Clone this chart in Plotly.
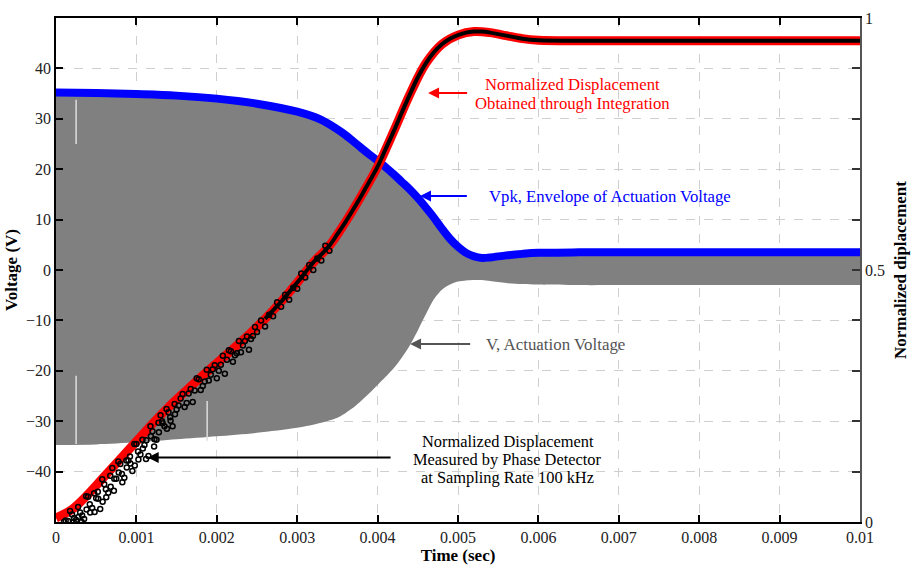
import plotly.graph_objects as go

# ---------------- data ----------------
# Vpk envelope (left axis, volts)
vpk_t = [0, 0.0005, 0.001, 0.0015, 0.002, 0.0025, 0.003, 0.0033, 0.0035, 0.0036, 0.0037,
         0.0038, 0.0039, 0.004, 0.0041, 0.0042, 0.0043, 0.0044, 0.0045, 0.0046, 0.0047,
         0.0048, 0.0049, 0.005, 0.0051, 0.0052, 0.0053, 0.0054, 0.0056, 0.0058, 0.006,
         0.0065, 0.007, 0.008, 0.009, 0.01]
vpk_v = [35.2, 35.1, 34.9, 34.6, 34.0, 33.0, 31.4, 29.8, 27.9, 26.8, 25.5,
         24.2, 22.9, 21.7, 20.4, 19.0, 17.5, 16.0, 14.3, 12.4, 10.4,
         8.2, 6.2, 4.6, 3.4, 2.7, 2.4, 2.5, 2.9, 3.2, 3.4,
         3.5, 3.5, 3.5, 3.5, 3.5]
# lower edge of the actuation-voltage band (left axis, volts)
vlow_v = [-34.7, -34.6, -34.2, -33.6, -33.0, -32.3, -31.3, -30.3, -29.3, -28.4, -27.3,
          -25.9, -24.4, -22.8, -21.2, -19.5, -17.4, -15.0, -12.0, -8.8, -5.8,
          -3.9, -2.9, -2.3, -2.1, -2.0, -2.0, -2.2, -2.6, -2.8, -2.9,
          -3.0, -3.0, -3.0, -3.0, -3.0]

# short light glitches visible inside the grey band: time, V from, V to
glitch_t = [0.00025, 0.00025, 0.00188]
glitch_v0 = [33.8, -21.0, -26.0]
glitch_v1 = [25.0, -34.5, -33.9]

# normalized displacement obtained through integration (right axis)
integ_t = [0, 0.0002, 0.0004, 0.0006, 0.0008, 0.001, 0.0012, 0.0014, 0.0016, 0.0018,
           0.002, 0.0022, 0.0024, 0.0026, 0.0028, 0.003, 0.0032, 0.0034, 0.0036,
           0.0038, 0.004, 0.0042, 0.0044, 0.0046, 0.0048, 0.005, 0.0052, 0.0054,
           0.0056, 0.0058, 0.006, 0.0065, 0.007, 0.008, 0.009, 0.01]
integ_d = [0.008, 0.025, 0.055, 0.09, 0.125, 0.16, 0.195, 0.228, 0.258, 0.287,
           0.315, 0.343, 0.372, 0.403, 0.437, 0.475, 0.515, 0.548, 0.595,
           0.648, 0.705, 0.775, 0.848, 0.91, 0.948, 0.966, 0.973, 0.971,
           0.965, 0.959, 0.956, 0.955, 0.955, 0.955, 0.955, 0.955]

# measured displacement (phase detector), scattered early samples
meas_t = [0.00015, 0.0002, 0.00025, 0.0003, 0.00035, 0.0004, 0.00045, 0.0005, 0.00055, 0.0006,
          0.00065, 0.0007, 0.00075, 0.0008, 0.00085, 0.0009, 0.00095, 0.001, 0.00105, 0.0011,
          0.00115, 0.0012, 0.00125, 0.0013, 0.00135, 0.0014, 0.00145, 0.0015, 0.00155, 0.0016,
          0.00165, 0.0017, 0.00175, 0.0018, 0.00185, 0.0019, 0.00195, 0.002, 0.00205, 0.0021,
          0.00215, 0.0022, 0.00225, 0.0023, 0.00235, 0.0024, 0.00245, 0.0025, 0.00255, 0.0026,
          0.00265, 0.0027, 0.00275, 0.0028, 0.00285, 0.0029, 0.00295, 0.003, 0.00305, 0.0031,
          0.00315, 0.0032, 0.00325, 0.0033, 0.00335, 0.0034,
          0.000175, 0.000225, 0.000275, 0.000325, 0.000375, 0.000425, 0.000475, 0.000525,
          0.000575, 0.000625, 0.000675, 0.000725, 0.000775, 0.000825, 0.000875, 0.000925,
          0.000975, 0.001025, 0.001075, 0.001125, 0.001175, 0.001225, 0.001275, 0.001325,
          0.001375, 0.001425, 0.001475, 0.001525, 0.001575, 0.001625, 0.001675, 0.001725,
          0.001775, 0.001825, 0.001875, 0.001925, 0.001975, 0.002025, 0.002075, 0.002125,
          0.002175, 0.002225, 0.002275, 0.002325, 0.002375, 0.002425, 0.002475,
          0.0001, 0.00012, 0.00022, 0.00028, 0.00032, 0.00038, 0.00042, 0.00048, 0.00052,
          0.00058, 0.00062, 0.00068, 0.00072, 0.00078, 0.00082, 0.00088, 0.00092, 0.00098,
          0.00102, 0.00108, 0.00112, 0.00118, 0.00122, 0.00128, 0.00132, 0.00138, 0.00142,
          0.00148]
meas_d = [0.002, 0.015, 0.004, 0.019, 0.006, 0.05, 0.028, 0.047, 0.026, 0.075,
          0.058, 0.107, 0.086, 0.115, 0.088, 0.122, 0.101, 0.155, 0.134, 0.153,
          0.131, 0.18, 0.163, 0.212, 0.19, 0.218, 0.19, 0.223, 0.245, 0.228,
          0.255, 0.238, 0.285, 0.262, 0.279, 0.281, 0.303, 0.285, 0.312, 0.294,
          0.341, 0.318, 0.335, 0.337, 0.359, 0.342, 0.369, 0.377, 0.4, 0.388,
          0.411, 0.408, 0.436, 0.427, 0.451, 0.441, 0.465, 0.463, 0.493, 0.485,
          0.51, 0.5, 0.523, 0.519, 0.548, 0.538,
          0.022, 0.008, 0.03, 0.013, 0.051, 0.019, 0.057, 0.046,
          0.085, 0.049, 0.092, 0.086, 0.12, 0.079, 0.122, 0.116,
          0.155, 0.124, 0.163, 0.162, 0.19, 0.164, 0.197, 0.196,
          0.224, 0.201, 0.234, 0.231, 0.254, 0.236, 0.264, 0.261,
          0.283, 0.27, 0.302, 0.292, 0.311, 0.3, 0.33, 0.322,
          0.339, 0.331, 0.359, 0.35, 0.368, 0.363, 0.387,
          0.0, 0.003, 0.0, 0.01, 0.0, 0.025, 0.035, 0.02, 0.06,
          0.04, 0.065, 0.07, 0.062, 0.098, 0.095, 0.108, 0.13, 0.112,
          0.14, 0.146, 0.125, 0.17, 0.15, 0.178, 0.2, 0.185, 0.208,
          0.214]

# measured displacement, dense later samples (overlapping circles)
meas2_t = [0.0026, 0.0027, 0.0028, 0.0029, 0.003, 0.0031, 0.0032, 0.0033,
           0.0034, 0.0035, 0.0036, 0.0037, 0.0038, 0.0039, 0.004, 0.0041, 0.0042, 0.0043,
           0.0044, 0.0045, 0.0046, 0.0047, 0.0048, 0.0049, 0.005, 0.0051, 0.0052, 0.0053,
           0.0054, 0.0055, 0.0056, 0.0057, 0.0058, 0.0059, 0.006, 0.0065, 0.007, 0.0075,
           0.008, 0.0085, 0.009, 0.0095, 0.01]
meas2_d = [0.403, 0.42, 0.437, 0.456, 0.475, 0.495, 0.515, 0.531,
           0.548, 0.571, 0.595, 0.621, 0.648, 0.676, 0.705, 0.74, 0.775, 0.812,
           0.848, 0.882, 0.91, 0.932, 0.948, 0.959, 0.966, 0.971, 0.973, 0.973,
           0.971, 0.968, 0.965, 0.962, 0.959, 0.957, 0.956, 0.955, 0.955, 0.955,
           0.955, 0.955, 0.955, 0.955, 0.955]

x_ticks = [0, 0.001, 0.002, 0.003, 0.004, 0.005, 0.006, 0.007, 0.008, 0.009, 0.01]
x_labels = ["0", "0.001", "0.002", "0.003", "0.004", "0.005", "0.006", "0.007", "0.008", "0.009", "0.01"]
y_ticks = [-40, -30, -20, -10, 0, 10, 20, 30, 40]
y2_ticks = [0, 0.1, 0.2, 0.3, 0.4, 0.5, 0.6, 0.7, 0.8, 0.9, 1]
y2_labels = ["0", "", "", "", "", "0.5", "", "", "", "", "1"]

# callout texts
red_lines = ["Normalized Displacement", "Obtained through Integration"]
blue_text = "Vpk, Envelope of Actuation Voltage"
grey_text = "V, Actuation Voltage"
black_lines = ["Normalized Displacement", "Measured by Phase Detector", "at Sampling Rate 100 kHz"]

SERIF = "Liberation Serif"

fig = go.Figure()

# actuation voltage band: lower edge, then upper edge filled down to it
fig.add_trace(go.Scatter(x=vpk_t, y=vlow_v, mode="lines",
                         line=dict(width=0, color="#808080", shape="spline", smoothing=0.8),
                         hoverinfo="skip", showlegend=False))
fig.add_trace(go.Scatter(x=vpk_t, y=[v - 0.4 for v in vpk_v], mode="lines", fill="tonexty",
                         fillcolor="#808080",
                         line=dict(width=0, color="#808080", shape="spline", smoothing=0.8),
                         hoverinfo="skip", showlegend=False))
gx, gy = [], []
for t, a, b in zip(glitch_t, glitch_v0, glitch_v1):
    gx += [t, t, None]
    gy += [a, b, None]
fig.add_trace(go.Scatter(x=gx, y=gy, mode="lines", line=dict(color="#dddddd", width=1.5),
                         hoverinfo="skip", showlegend=False))
# envelope
fig.add_trace(go.Scatter(x=vpk_t, y=vpk_v, mode="lines",
                         line=dict(color="#0000ff", width=8, shape="spline"),
                         showlegend=False))
# integration (right axis)
fig.add_trace(go.Scatter(x=integ_t, y=integ_d, yaxis="y2", mode="lines",
                         line=dict(color="#ff0000", width=9, shape="spline"),
                         showlegend=False))
fig.add_trace(go.Scatter(x=meas2_t, y=meas2_d, yaxis="y2", mode="lines",
                         line=dict(color="#000000", width=4, shape="spline"),
                         showlegend=False))
fig.add_trace(go.Scatter(x=meas_t, y=meas_d, yaxis="y2", mode="markers",
                         marker=dict(symbol="circle-open", size=5, color="#000000",
                                     line=dict(width=1.5, color="#000000")),
                         showlegend=False))

ann = []
def arrow(x_tip, x_tail, y, color):
    ann.append(dict(x=x_tip, y=y, ax=x_tail, ay=y, xref="x", yref="y",
                    axref="x", ayref="y", text="", showarrow=True,
                    arrowhead=2, arrowsize=1.1, arrowwidth=2, arrowcolor=color))

def label(x, y, text, color, size, anchor="center"):
    ann.append(dict(x=x, y=y, xref="x", yref="y", showarrow=False, xanchor=anchor,
                    text=text, font=dict(family=SERIF, size=size, color=color)))

arrow(0.004628, 0.005132, 35.1, "#ff0000")
arrow(0.004527, 0.005129, 14.7, "#0000ff")
arrow(0.004404, 0.005170, -14.7, "#555555")
arrow(0.001140, 0.004180, -37.2, "#000000")

label(0.006425, 36.8, red_lines[0], "#ff0000", 16.7)
label(0.006425, 33.1, red_lines[1], "#ff0000", 16.7)
label(0.005365, 14.5, blue_text, "#0000ff", 16.7, "left")
label(0.005318, -14.7, grey_text, "#555555", 16.9, "left")
label(0.005620, -34.0, black_lines[0], "#000000", 16.4)
label(0.005620, -37.5, black_lines[1], "#000000", 16.4)
label(0.005620, -41.2, black_lines[2], "#000000", 16.4)

fig.update_layout(
    width=917, height=569,
    margin=dict(l=56, r=47, t=10, b=43),
    paper_bgcolor="white", plot_bgcolor="white",
    font=dict(family=SERIF, size=16, color="#222222"),
    annotations=ann,
    xaxis=dict(range=[0, 0.01], tickvals=x_ticks, ticktext=x_labels,
               ticks="inside", ticklen=7, tickwidth=1.5, tickcolor="#000000",
               showline=True, linecolor="#000000", linewidth=1.5, mirror="ticks",
               showgrid=True, gridcolor="#cfcfcf", griddash="dash", gridwidth=1,
               zeroline=False,
               title=dict(text="<b>Time (sec)</b>", font=dict(family=SERIF, size=17, color="#000000"),
                          standoff=1)),
    yaxis=dict(range=[-50, 50], tickvals=y_ticks,
               ticks="inside", ticklen=7, tickwidth=1.5, tickcolor="#000000",
               showline=True, linecolor="#000000", linewidth=1.5,
               showgrid=True, gridcolor="#cfcfcf", griddash="dash", gridwidth=1,
               zeroline=False,
               title=dict(text="<b>Voltage (V)</b>", font=dict(family=SERIF, size=17, color="#000000"),
                          standoff=4)),
    yaxis2=dict(range=[0, 1], overlaying="y", side="right", tickvals=y2_ticks, ticktext=y2_labels,
                ticks="inside", ticklen=8, tickwidth=1.5, tickcolor="#333333",
                showline=True, linecolor="#555555", linewidth=1.5,
                showgrid=False, zeroline=False,
                title=dict(text="<b>Normalized diplacement</b>", font=dict(family=SERIF, size=17, color="#000000"),
                           standoff=10)),
)

fig.write_html("out.html")
